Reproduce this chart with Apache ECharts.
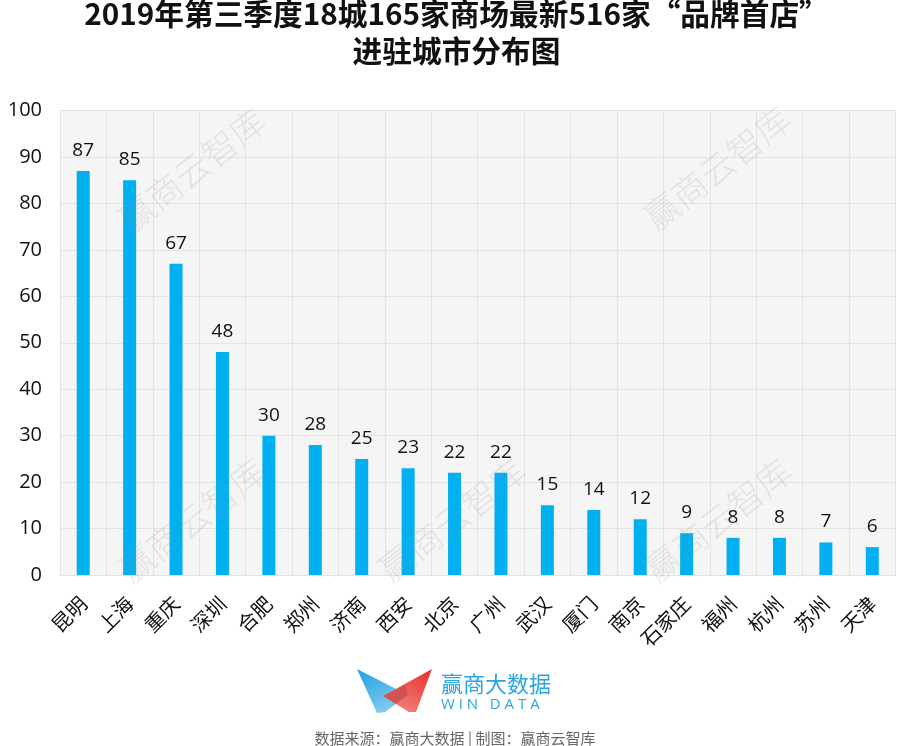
<!DOCTYPE html>
<html><head><meta charset="utf-8">
<style>html,body{margin:0;padding:0;background:#fff}#c{width:910px;height:746px}</style>
<script src="https://cdn.jsdelivr.net/npm/echarts@6/dist/echarts.min.js"></script>
</head><body><div id="c"></div>
<script>
const titleText = '2019年第三季度18城165家商场最新516家“品牌首店”\n进驻城市分布图';
const categories = ['昆明','上海','重庆','深圳','合肥','郑州','济南','西安','北京','广州','武汉','厦门','南京','石家庄','福州','杭州','苏州','天津'];
const values = [87,85,67,48,30,28,25,23,22,22,15,14,12,9,8,8,7,6];
const yTicks = {min:0,max:100,interval:10};
const cjk = '"Noto Sans CJK SC","Open Sans",sans-serif';
const watermarks = [[192,170],[717,168],[192,520],[452,520],[718,520]];
const chart = echarts.init(document.getElementById('c'));
const wm = watermarks.map(p=>({type:'text',x:p[0],y:p[1],rotation:Math.PI*38/180,z:10,silent:true,
  style:{text:'赢商云智库',font:'300 35px '+cjk,fill:'rgba(150,150,155,0.2)',align:'center',verticalAlign:'middle'}}));
const logo = [
 {type:'polygon',shape:{points:[[357,669],[408,695],[385,712],[377,713]]},style:{fill:new echarts.graphic.LinearGradient(0,0,0.4,1,[{offset:0,color:'#1f9ee0'},{offset:1,color:'#7fc8ef'}])}},
 {type:'polygon',shape:{points:[[432,669],[383,696],[409,712],[416,712]]},style:{fill:new echarts.graphic.LinearGradient(0.7,0,0.3,1,[{offset:0,color:'#e63a33'},{offset:1,color:'#f0837c'}])}},
 {type:'polygon',shape:{points:[[383,696],[405,685],[408,695],[396,704]]},style:{fill:'#c9504f',opacity:0.85}},
 {type:'text',x:441,y:684,style:{text:'赢商大数据',font:'400 22px '+cjk,fill:'#2aa5e3',align:'left',verticalAlign:'middle'}},
 {type:'text',x:441,y:705,style:{text:'W I N   D A T A',font:'400 15px "Open Sans",sans-serif',fill:'#2aa5e3',align:'left',verticalAlign:'middle'}},
 {type:'text',x:455,y:738,style:{text:'数据来源：赢商大数据 | 制图：赢商云智库',font:'400 15px '+cjk,fill:'#666',align:'center',verticalAlign:'middle'}}
];
chart.setOption({
  animation:false,
  backgroundColor:'#fff',
  title:{text:titleText,left:451.5,textAlign:'center',top:-10,itemGap:0,
    textStyle:{fontFamily:cjk,fontWeight:700,fontSize:29.7,lineHeight:37,color:'#111'}},
  grid:{left:60,right:14.5,top:110.5,bottom:171,backgroundColor:'#f5f5f5',show:true,borderWidth:0},
  xAxis:{type:'category',data:categories,
    axisTick:{show:false},axisLine:{lineStyle:{color:'#e3e3e3'}},
    splitLine:{show:true,lineStyle:{color:'#e3e3e3',width:1}},
    axisLabel:{rotate:45,interval:0,fontFamily:cjk,fontSize:20,color:'#111',margin:25}},
  yAxis:{type:'value',min:yTicks.min,max:yTicks.max,interval:yTicks.interval,
    axisLine:{show:false},axisTick:{show:false},
    splitLine:{lineStyle:{color:'#e3e3e3',width:1}},
    axisLabel:{fontFamily:'"Open Sans",sans-serif',fontSize:20,color:'#111',margin:18}},
  series:[{type:'bar',data:values,barWidth:13,itemStyle:{color:'#00b0f0'},
    label:{show:true,position:'top',distance:11,fontFamily:'"Open Sans",sans-serif',fontSize:19,color:'#111'}}],
  graphic:{elements:[...wm,...logo]}
});
</script></body></html>
